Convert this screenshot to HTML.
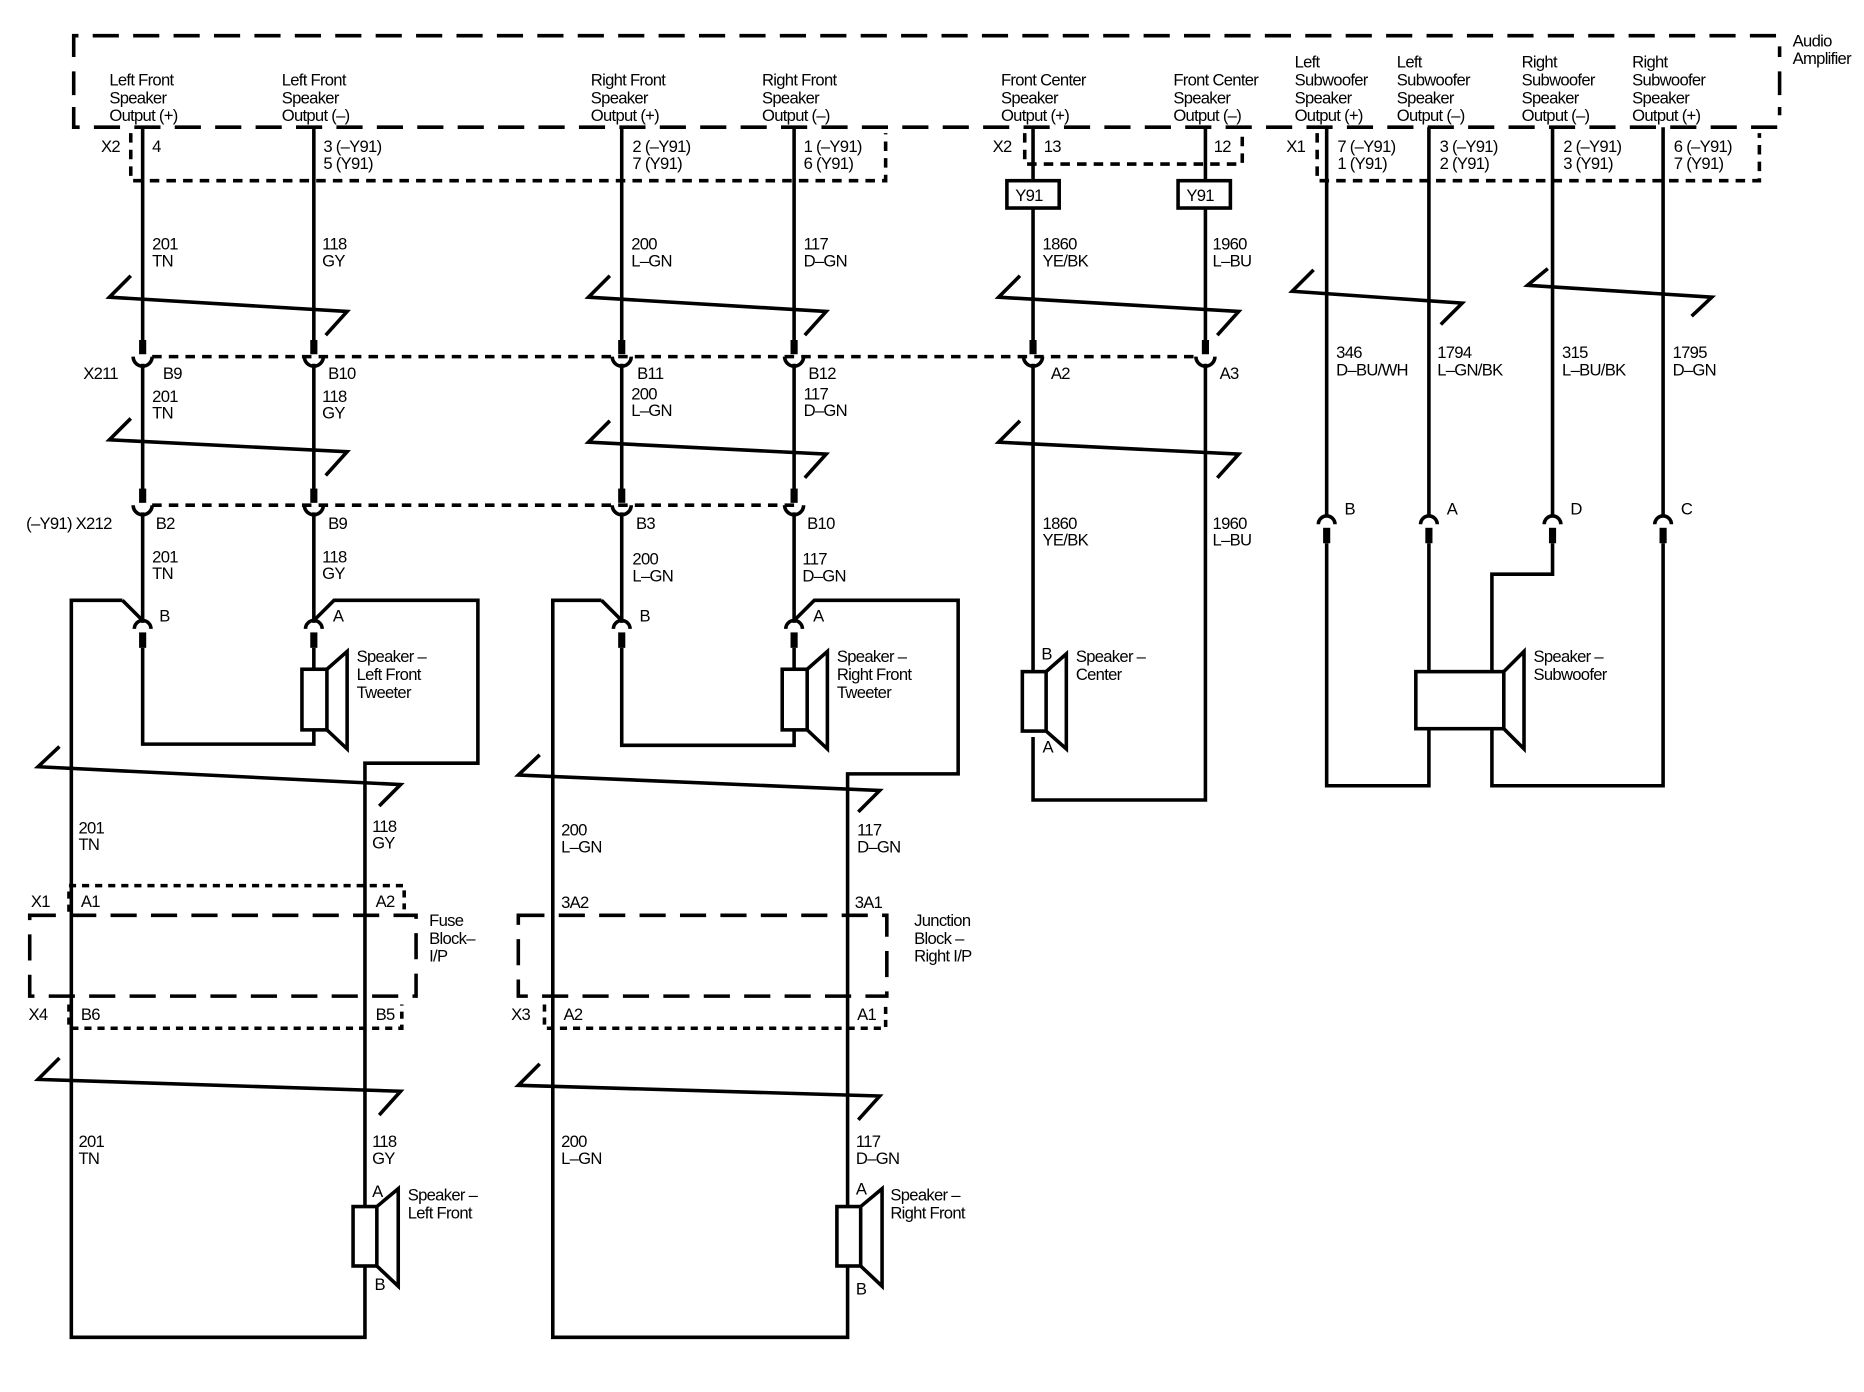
<!DOCTYPE html>
<html><head><meta charset="utf-8"><style>
html,body{margin:0;padding:0;background:#fff}
svg{display:block}
text{font-family:"Liberation Sans",Arial,sans-serif;font-size:14px;fill:#000;letter-spacing:-0.6px}
</style></head><body>
<svg width="1864" height="1392" viewBox="0 0 1568 1171" preserveAspectRatio="none" xmlns="http://www.w3.org/2000/svg">
<defs>
<g id="cu"><rect x="-3" y="-14" width="6" height="12" fill="#000"/><path d="M-8 0 A8 8 0 0 0 8 0" fill="none" stroke="#000" stroke-width="3"/></g>
<g id="cd"><path d="M-7 7 A7 7 0 0 1 7 7" fill="none" stroke="#000" stroke-width="3"/><rect x="-3" y="10" width="6" height="13" fill="#000"/></g>
</defs>
<g fill="none" stroke="#000" stroke-width="3">
<path d="M62 48 V30 H1497 V48 M62 60 V80 M1497 60 V80 M62 90 V107 H1497 V90" stroke-dasharray="22 12"/>
<path d="M110 112 V152 H745 V112" stroke-dasharray="8 6"/>
<path d="M862 112 V138 H1045 V112" stroke-dasharray="8 6"/>
<path d="M1108 112 V152 H1480 V112" stroke-dasharray="8 6"/>
<path d="M128 300 H1010" stroke-dasharray="8 6"/>
<path d="M128 425 H670" stroke-dasharray="8 6"/>
<path d="M120 107 V288 M264 107 V288 M523 107 V288 M668 107 V288 M869 107 V152 M869 175 V288 M1014 107 V152 M1014 175 V288"/>
<path d="M1116 107 V435 M1202 107 V435 M1306 107 V435 M1399 107 V435"/>
<path d="M120 306 V413 M264 306 V413 M523 306 V413 M668 306 V413"/>
<path d="M120 431 V524 M264 431 V524 M523 431 V524 M668 431 V524"/>
<path d="M869 306 V600 M1014 306 V673 H869 V620"/>
<rect x="847" y="152" width="44" height="23"/><rect x="991" y="152" width="44" height="23"/>
<path d="M103 505 H60 V1125 H307 V642 H402 V505 H281 L264 522"/>
<path d="M103 505 L120 522"/>
<path d="M120 545 V626 H264 V614 M264 545 V563"/>
<rect x="254" y="563" width="21" height="51" fill="#fff"/>
<path d="M275 563 L292 548 V630 L275 614"/>
<path d="M506 505 H465 V1125 H713 V651 H806 V505 H685 L668 522"/>
<path d="M506 505 L523 522"/>
<path d="M523 545 V627 H668 V614 M668 545 V563"/>
<rect x="658" y="563" width="21" height="51" fill="#fff"/>
<path d="M679 563 L696 548 V630 L679 614"/>
<rect x="297" y="1015" width="20" height="50" fill="#fff"/><path d="M317 1015 L335 1000 V1082 L317 1065"/>
<rect x="704" y="1015" width="20" height="50" fill="#fff"/><path d="M724 1015 L742 1000 V1082 L724 1065"/>
<rect x="860" y="565" width="20" height="50" fill="#fff"/><path d="M880 565 L897 550 V630 L880 615"/>
<path d="M1116 457 V661 H1202 V613 M1202 457 V565"/>
<path d="M1306 457 V483 H1255 V661 H1399 V457"/>
<rect x="1191" y="565" width="74" height="48" fill="#fff"/>
<path d="M1265 565 L1282 548 V630 L1265 613"/>
<path d="M58 745 H340 V765 M58 750 V768" stroke-dasharray="6 5"/>
<path d="M25 770 H350 V838 H25 Z" stroke-dasharray="22 12"/>
<path d="M58 845 V865 H338 V845" stroke-dasharray="6 5"/>
<path d="M436 770 H746 V838 H436 Z" stroke-dasharray="22 12"/>
<path d="M458 845 V865 H745 V845" stroke-dasharray="6 5"/>
<path d="M110 232 L92 250 L292 262 L274 282"/>
<path d="M513 232 L495 250 L695 262 L677 282"/>
<path d="M858 232 L840 250 L1042 262 L1024 282"/>
<path d="M1105 227 L1087 245 L1230 255 L1212 273"/>
<path d="M1302 226 L1285 240 L1440 250 L1423 266"/>
<path d="M110 352 L92 370 L292 380 L274 400"/>
<path d="M513 354 L495 372 L695 382 L677 402"/>
<path d="M858 354 L840 372 L1042 382 L1024 402"/>
<path d="M50 628 L32 645 L337 660 L319 678"/>
<path d="M454 635 L436 652 L740 665 L722 683"/>
<path d="M50 890 L32 908 L337 918 L319 938"/>
<path d="M454 895 L436 913 L740 922 L722 942"/>
</g>
<use href="#cu" x="120" y="300"/><use href="#cu" x="264" y="300"/><use href="#cu" x="523" y="300"/><use href="#cu" x="668" y="300"/><use href="#cu" x="869" y="300"/><use href="#cu" x="1014" y="300"/>
<use href="#cu" x="120" y="425"/><use href="#cu" x="264" y="425"/><use href="#cu" x="523" y="425"/><use href="#cu" x="668" y="425"/>
<use href="#cd" x="120" y="522"/><use href="#cd" x="264" y="522"/><use href="#cd" x="523" y="522"/><use href="#cd" x="668" y="522"/>
<use href="#cd" x="1116" y="434"/><use href="#cd" x="1202" y="434"/><use href="#cd" x="1306" y="434"/><use href="#cd" x="1399" y="434"/>
<text x="92" y="72">Left Front</text><text x="92" y="87">Speaker</text><text x="92" y="102">Output (+)</text>
<text x="237" y="72">Left Front</text><text x="237" y="87">Speaker</text><text x="237" y="102">Output (–)</text>
<text x="497" y="72">Right Front</text><text x="497" y="87">Speaker</text><text x="497" y="102">Output (+)</text>
<text x="641" y="72">Right Front</text><text x="641" y="87">Speaker</text><text x="641" y="102">Output (–)</text>
<text x="842" y="72">Front Center</text><text x="842" y="87">Speaker</text><text x="842" y="102">Output (+)</text>
<text x="987" y="72">Front Center</text><text x="987" y="87">Speaker</text><text x="987" y="102">Output (–)</text>
<text x="1089" y="57">Left</text><text x="1089" y="72">Subwoofer</text><text x="1089" y="87">Speaker</text><text x="1089" y="102">Output (+)</text>
<text x="1175" y="57">Left</text><text x="1175" y="72">Subwoofer</text><text x="1175" y="87">Speaker</text><text x="1175" y="102">Output (–)</text>
<text x="1280" y="57">Right</text><text x="1280" y="72">Subwoofer</text><text x="1280" y="87">Speaker</text><text x="1280" y="102">Output (–)</text>
<text x="1373" y="57">Right</text><text x="1373" y="72">Subwoofer</text><text x="1373" y="87">Speaker</text><text x="1373" y="102">Output (+)</text>
<text x="1508" y="39">Audio</text><text x="1508" y="54">Amplifier</text>
<text x="85" y="128">X2</text><text x="128" y="128">4</text>
<text x="272" y="128">3 (–Y91)</text><text x="272" y="142">5 (Y91)</text>
<text x="532" y="128">2 (–Y91)</text><text x="532" y="142">7 (Y91)</text>
<text x="676" y="128">1 (–Y91)</text><text x="676" y="142">6 (Y91)</text>
<text x="835" y="128">X2</text><text x="878" y="128">13</text><text x="1021" y="128">12</text>
<text x="1082" y="128">X1</text>
<text x="1125" y="128">7 (–Y91)</text><text x="1125" y="142">1 (Y91)</text>
<text x="1211" y="128">3 (–Y91)</text><text x="1211" y="142">2 (Y91)</text>
<text x="1315" y="128">2 (–Y91)</text><text x="1315" y="142">3 (Y91)</text>
<text x="1408" y="128">6 (–Y91)</text><text x="1408" y="142">7 (Y91)</text>
<text x="854" y="169">Y91</text><text x="998" y="169">Y91</text>
<text x="128" y="210">201</text><text x="128" y="224">TN</text>
<text x="271" y="210">118</text><text x="271" y="224">GY</text>
<text x="531" y="210">200</text><text x="531" y="224">L–GN</text>
<text x="676" y="210">117</text><text x="676" y="224">D–GN</text>
<text x="877" y="210">1860</text><text x="877" y="224">YE/BK</text>
<text x="1020" y="210">1960</text><text x="1020" y="224">L–BU</text>
<text x="1124" y="301">346</text><text x="1124" y="316">D–BU/WH</text>
<text x="1209" y="301">1794</text><text x="1209" y="316">L–GN/BK</text>
<text x="1314" y="301">315</text><text x="1314" y="316">L–BU/BK</text>
<text x="1407" y="301">1795</text><text x="1407" y="316">D–GN</text>
<text x="70" y="319">X211</text><text x="137" y="319">B9</text><text x="276" y="319">B10</text><text x="536" y="319">B11</text><text x="680" y="319">B12</text><text x="884" y="319">A2</text><text x="1026" y="319">A3</text>
<text x="128" y="338">201</text><text x="128" y="352">TN</text>
<text x="271" y="338">118</text><text x="271" y="352">GY</text>
<text x="531" y="336">200</text><text x="531" y="350">L–GN</text>
<text x="676" y="336">117</text><text x="676" y="350">D–GN</text>
<text x="22" y="445">(–Y91) X212</text><text x="131" y="445">B2</text><text x="276" y="445">B9</text><text x="535" y="445">B3</text><text x="679" y="445">B10</text>
<text x="877" y="445">1860</text><text x="877" y="459">YE/BK</text>
<text x="1020" y="445">1960</text><text x="1020" y="459">L–BU</text>
<text x="1131" y="433">B</text><text x="1217" y="433">A</text><text x="1321" y="433">D</text><text x="1414" y="433">C</text>
<text x="128" y="473">201</text><text x="128" y="487">TN</text>
<text x="271" y="473">118</text><text x="271" y="487">GY</text>
<text x="532" y="475">200</text><text x="532" y="489">L–GN</text>
<text x="675" y="475">117</text><text x="675" y="489">D–GN</text>
<text x="134" y="523">B</text><text x="280" y="523">A</text><text x="538" y="523">B</text><text x="684" y="523">A</text>
<text x="300" y="557">Speaker –</text><text x="300" y="572">Left Front</text><text x="300" y="587">Tweeter</text>
<text x="704" y="557">Speaker –</text><text x="704" y="572">Right Front</text><text x="704" y="587">Tweeter</text>
<text x="876" y="555">B</text><text x="877" y="633">A</text>
<text x="905" y="557">Speaker –</text><text x="905" y="572">Center</text>
<text x="1290" y="557">Speaker –</text><text x="1290" y="572">Subwoofer</text>
<text x="66" y="701">201</text><text x="66" y="715">TN</text>
<text x="313" y="700">118</text><text x="313" y="714">GY</text>
<text x="472" y="703">200</text><text x="472" y="717">L–GN</text>
<text x="721" y="703">117</text><text x="721" y="717">D–GN</text>
<text x="26" y="763">X1</text><text x="68" y="763">A1</text><text x="316" y="763">A2</text>
<text x="472" y="764">3A2</text><text x="719" y="764">3A1</text>
<text x="361" y="779">Fuse</text><text x="361" y="794">Block–</text><text x="361" y="809">I/P</text>
<text x="769" y="779">Junction</text><text x="769" y="794">Block –</text><text x="769" y="809">Right I/P</text>
<text x="24" y="858">X4</text><text x="68" y="858">B6</text><text x="316" y="858">B5</text>
<text x="430" y="858">X3</text><text x="474" y="858">A2</text><text x="721" y="858">A1</text>
<text x="66" y="965">201</text><text x="66" y="979">TN</text>
<text x="313" y="965">118</text><text x="313" y="979">GY</text>
<text x="472" y="965">200</text><text x="472" y="979">L–GN</text>
<text x="720" y="965">117</text><text x="720" y="979">D–GN</text>
<text x="313" y="1007">A</text><text x="315" y="1085">B</text>
<text x="720" y="1005">A</text><text x="720" y="1089">B</text>
<text x="343" y="1010">Speaker –</text><text x="343" y="1025">Left Front</text>
<text x="749" y="1010">Speaker –</text><text x="749" y="1025">Right Front</text>
</svg>
</body></html>
